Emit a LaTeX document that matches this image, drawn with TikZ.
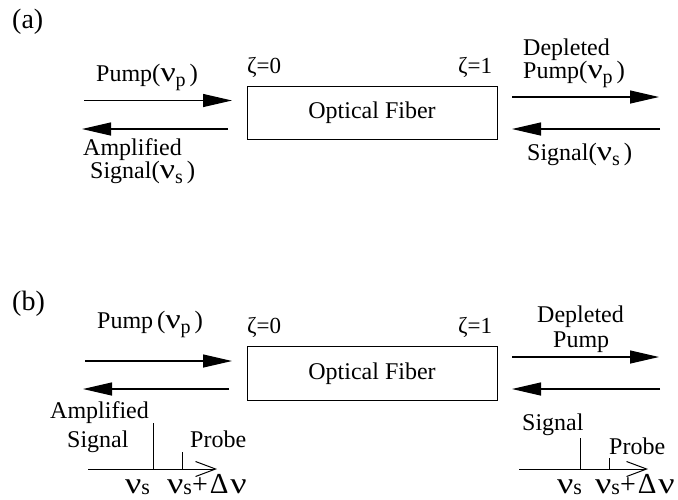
\documentclass[tikz,border=0pt]{standalone}
\usepackage{fontspec}
\setmainfont{Liberation Serif}
\usetikzlibrary{arrows.meta}
\newcommand{\fs}[1]{\fontsize{#1pt}{#1pt}\selectfont}
\newcommand{\wnu}[1]{{\fs{#1}\scalebox{1.2}[1]{ν}}}
\newcommand{\nusub}[1]{\wnu{28}\raisebox{-0.5ex}{\fs{20}#1}}
\newcommand{\pnu}[1]{{\fs{25}(}\nusub{#1}\hspace{4pt}{\fs{25})}}
\newcommand{\bnu}{\wnu{30}\raisebox{-0.15ex}{\fs{22}s}}
\newcommand{\bnud}{\bnu{\fs{28}+}\hspace{2pt}{\fs{29}Δ}\hspace{2pt}\wnu{30}}
\tikzset{
  lbl/.style={inner sep=0pt, anchor=base west, font=\fs{24}},
  fiber/.style={draw, line width=1pt, minimum width=250pt, minimum height=53.5pt, inner sep=0pt, font=\fs{24}},
  beam/.style={line width=1.2pt, -{Triangle[length=29pt,width=13pt]}},
  freqaxis/.style={line width=1pt, -{Straight Barb[length=20pt,width=15pt,line width=1pt]}},
  specline/.style={line width=1pt},
}
\begin{document}
\begin{tikzpicture}[x=1pt,y=-1pt]
\useasboundingbox (0,0) rectangle (678,499);
% ---------- (a) ----------
\node[lbl, font=\fs{28}] (la) at (12,28) {(a)};
\node[fiber] (fa) at (372,112.75) {Optical Fiber};
\node[lbl, font=\fs{23}] (za0) at (247,73) {ζ=0};
\node[lbl, font=\fs{23}] (za1) at (458,73) {ζ=1};
\node[lbl] (pa) at (96,81) {Pump\pnu{p}};
\node[lbl] (aa1) at (83,155) {Amplified};
\node[lbl] (aa2) at (90,178) {Signal\pnu{s}};
\node[lbl] (da1) at (523,55) {Depleted};
\node[lbl] (da2) at (523,78) {Pump\pnu{p}};
\node[lbl] (sa) at (527,160) {Signal\pnu{s}};
\coordinate (a1s) at (84,100.5);  \coordinate (a1e) at (232,100.5);
\coordinate (a2s) at (228,129);   \coordinate (a2e) at (82,129);
\coordinate (a3s) at (512,97);    \coordinate (a3e) at (659,97);
\coordinate (a4s) at (660,129);   \coordinate (a4e) at (512,129);
\draw[beam] (a1s) -- (a1e);
\draw[beam] (a2s) -- (a2e);
\draw[beam] (a3s) -- (a3e);
\draw[beam] (a4s) -- (a4e);
% ---------- (b) ----------
\node[lbl, font=\fs{28}] (lb) at (12,310) {(b)};
\node[fiber] (fb) at (372,373.5) {Optical Fiber};
\node[lbl, font=\fs{23}] (zb0) at (247,333) {ζ=0};
\node[lbl, font=\fs{23}] (zb1) at (458,333) {ζ=1};
\node[lbl] (pb) at (97,328) {Pump\hspace{4pt}\pnu{p}};
\node[lbl] (db1) at (537,322) {Depleted};
\node[lbl] (db2) at (553,347) {Pump};
\coordinate (b1s) at (85,361);    \coordinate (b1e) at (232,361);
\coordinate (b2s) at (229,389);   \coordinate (b2e) at (83,389);
\coordinate (b3s) at (512,357);   \coordinate (b3e) at (659,357);
\coordinate (b4s) at (660,389);   \coordinate (b4e) at (512,389);
\draw[beam] (b1s) -- (b1e);
\draw[beam] (b2s) -- (b2e);
\draw[beam] (b3s) -- (b3e);
\draw[beam] (b4s) -- (b4e);
% left spectrum
\node[lbl] (ab1) at (50,418) {Amplified};
\node[lbl] (ab2) at (67,447) {Signal};
\node[lbl] (prl) at (190,447) {Probe};
\coordinate (lx0) at (88,469);  \coordinate (lx1) at (217,469);
\coordinate (ls0) at (153,469); \coordinate (ls1) at (153,423);
\coordinate (lp0) at (182,469); \coordinate (lp1) at (182,452);
\draw[freqaxis] (lx0) -- (lx1);
\draw[specline] (ls0) -- (ls1);
\draw[specline] (lp0) -- (lp1);
\node[lbl] (nl1) at (125,493) {\bnu};
\node[lbl] (nl2) at (167,493) {\bnud};
% right spectrum
\node[lbl] (sr) at (522,430) {Signal};
\node[lbl] (prr) at (609,454) {Probe};
\coordinate (rx0) at (519,469); \coordinate (rx1) at (648,469);
\coordinate (rs0) at (580,469); \coordinate (rs1) at (580,438);
\coordinate (rp0) at (609,469); \coordinate (rp1) at (609,458);
\draw[freqaxis] (rx0) -- (rx1);
\draw[specline] (rs0) -- (rs1);
\draw[specline] (rp0) -- (rp1);
\node[lbl] (nr1) at (557,493) {\bnu};
\node[lbl] (nr2) at (595,493) {\bnud};
\end{tikzpicture}
\end{document}
